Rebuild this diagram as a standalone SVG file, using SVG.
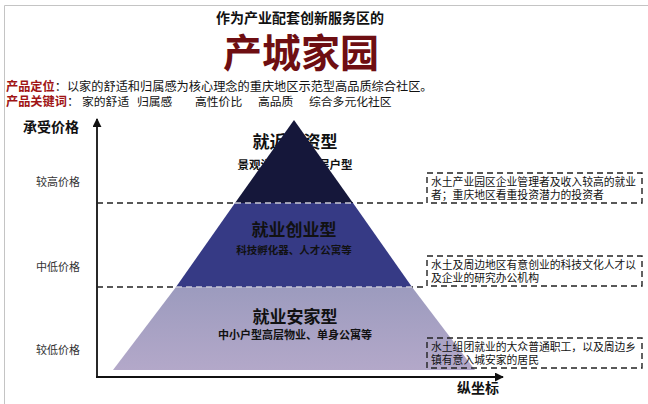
<svg xmlns="http://www.w3.org/2000/svg" width="648" height="404" viewBox="0 0 648 404">
<style>
text{font-family:"Noto Sans CJK SC","Noto Sans",sans-serif;fill:#111}
.b{font-weight:bold}
.lab{font-size:11px;fill:#333}
.box{font-size:10.8px;fill:#111}
.kw{font-size:11.8px}
.dash{stroke:#222;stroke-width:1.4;stroke-dasharray:6 4;fill:none}
.dashl{stroke:#c9c9d6;stroke-width:1.4;stroke-dasharray:6 4;fill:none}
.ax{stroke:#111;stroke-width:1.8;fill:none}
.red{fill:#a01414;font-weight:bold}
</style>
<defs>
<marker id="ah" viewBox="0 0 10 10" refX="9" refY="5" markerWidth="5" markerHeight="5" orient="auto"><path d="M0,0L10,5L0,10z" fill="#111"/></marker>
<linearGradient id="gb" x1="0" y1="0" x2="0" y2="1"><stop offset="0" stop-color="#9c9bbe"/><stop offset="1" stop-color="#b3a8c9"/></linearGradient>
</defs>
<rect width="648" height="404" fill="#fff"/>
<path d="M4.5,404V5.5H648" stroke="#c4c4c4" stroke-width="1" fill="none"/>
<g id="header">
<text x="300" y="23" text-anchor="middle" class="b" font-size="14">作为产业配套创新服务区的</text>
<text x="301" y="67" text-anchor="middle" class="b" font-size="39" style="fill:#6e0e12">产城家园</text>
<text x="6" y="91" font-size="12.2"><tspan class="red">产品定位</tspan>：以家的舒适和归属感为核心理念的重庆地区示范型高品质综合社区。</text>
<text x="6" y="106" font-size="12.2"><tspan class="red">产品关键词</tspan>：</text>
<text x="82" y="106" class="kw">家的舒适</text>
<text x="137" y="106" class="kw">归属感</text>
<text x="195" y="106" class="kw">高性价比</text>
<text x="258" y="106" class="kw">高品质</text>
<text x="309" y="106" class="kw">综合多元化社区</text>
</g>
<g id="y-labels">
<text x="23" y="132" class="b" font-size="14">承受价格</text>
<text x="80" y="186" text-anchor="end" class="lab">较高价格</text>
<text x="80" y="271" text-anchor="end" class="lab">中低价格</text>
<text x="80" y="354" text-anchor="end" class="lab">较低价格</text>
<text x="457" y="393" class="b" font-size="14">纵坐标</text>
</g>
<g id="connectors">
<line x1="97" y1="377" x2="97" y2="119" class="ax" marker-end="url(#ah)"/>
<line x1="96" y1="377" x2="503" y2="377" class="ax" marker-end="url(#ah)"/>
<line x1="97" y1="203" x2="427" y2="203" class="dash"/>
<line x1="97" y1="287" x2="427" y2="287" class="dash"/>
</g>
<g id="tier-top">
<text x="295" y="148" text-anchor="middle" class="b" font-size="17">就近投资型</text>
<text x="295" y="169" text-anchor="middle" font-size="11.5" class="b">景观洋房、大平层户型</text>
<path d="M294,120L235,203H353z" fill="#15173a"/>
</g>
<g id="tier-mid">
<path d="M235,203L176,287H412L353,203z" fill="#363a85"/>
<text x="294" y="236" text-anchor="middle" class="b" font-size="17">就业创业型</text>
<text x="294" y="254" text-anchor="middle" class="b" font-size="10.5">科技孵化器、人才公寓等</text>
</g>
<g id="tier-bottom">
<path d="M176,287L113,370H475L412,287z" fill="url(#gb)"/>
<text x="295" y="323" text-anchor="middle" class="b" font-size="17">就业安家型</text>
<text x="295" y="339" text-anchor="middle" class="b" font-size="11">中小户型高层物业、单身公寓等</text>
</g>
<g id="tier-lines">
<line x1="235" y1="203" x2="353" y2="203" class="dashl"/>
<line x1="176" y1="287" x2="412" y2="287" class="dashl"/>
</g>
<g id="box-high">
<rect x="427" y="173" width="215" height="30" class="dash"/>
<text x="431" y="186" class="box">水土产业园区企业管理者及收入较高的就业</text>
<text x="431" y="199" class="box">者；重庆地区看重投资潜力的投资者</text>
</g>
<g id="box-mid">
<rect x="427" y="256" width="215" height="30" class="dash"/>
<text x="431" y="269" class="box">水土及周边地区有意创业的科技文化人才以</text>
<text x="431" y="282" class="box">及企业的研究办公机构</text>
</g>
<g id="box-low">
<rect x="427" y="338" width="215" height="30" class="dash"/>
<text x="431" y="351" class="box">水土组团就业的大众普通职工，以及周边乡</text>
<text x="431" y="364" class="box">镇有意入城安家的居民</text>
</g>
</svg>
